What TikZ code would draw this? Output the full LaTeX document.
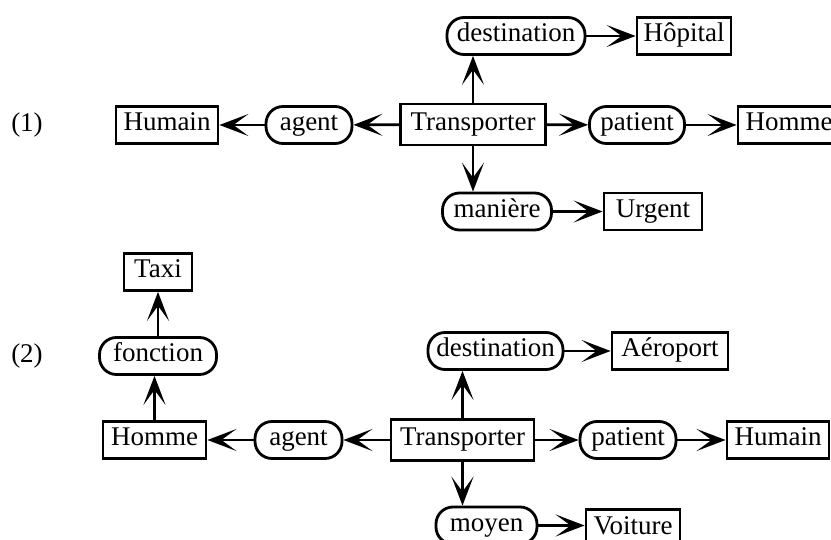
\documentclass[tikz,border=0pt]{standalone}
\usepackage{fontspec}
\setmainfont{Liberation Serif}
\usetikzlibrary{arrows.meta}
\begin{document}
\begin{tikzpicture}[x=1pt,y=-1pt,
  base/.style={draw, line width=2.8pt, inner xsep=2pt, inner ysep=0pt,
    minimum height=37pt, text height=18pt, text depth=6pt,
    font=\fontsize{27}{30}\selectfont},
  concept/.style={base, rectangle},
  relation/.style={base, rounded corners=17pt},
  arr/.style={line width=2.7pt, -{Stealth[length=29pt,width=22pt,inset=15pt]}},
  lbl/.style={font=\fontsize{27}{30}\selectfont}]
\useasboundingbox (0,0) rectangle (831,540);
\clip (0,0) rectangle (831,540);

% ---- graph (1)
\node[lbl] (n1) at (27,125) {(1)};
\node[concept, minimum width=145pt, minimum height=41pt] (t1) at (473,124.5) {Transporter};
\node[relation, minimum width=86pt] (ag1) at (309,125) {agent};
\node[concept, minimum width=102pt] (hu1) at (167,125) {Humain};
\node[relation, minimum width=95pt] (pa1) at (637,125) {patient};
\node[concept, minimum width=102pt] (ho1) at (789,125) {Homme};
\node[relation, minimum width=138pt] (de1) at (516,36) {destination};
\node[concept, minimum width=94pt] (hp1) at (684,36) {Hôpital};
\node[relation, minimum width=109pt] (ma1) at (497,211.5) {manière};
\node[concept, minimum width=98pt] (ur1) at (653,211.5) {Urgent};

\draw[arr] (t1) -- (ag1);
\draw[arr] (ag1) -- (hu1);
\draw[arr] (t1) -- (pa1);
\draw[arr] (pa1) -- (ho1);
\draw[arr] (t1.north) -- (t1.north |- de1.south);
\draw[arr] (de1) -- (hp1);
\draw[arr] (t1.south) -- (t1.south |- ma1.north);
\draw[arr] (ma1) -- (ur1);

% ---- graph (2)
\node[lbl] (n2) at (27,356) {(2)};
\node[concept, minimum width=143pt, minimum height=41pt] (t2) at (462.5,440) {Transporter};
\node[relation, minimum width=87pt] (ag2) at (298.5,440) {agent};
\node[concept, minimum width=103pt] (ho2) at (154.5,440) {Homme};
\node[relation, minimum width=117pt] (fo2) at (158,356) {fonction};
\node[concept, minimum width=68pt] (tx2) at (158,272) {Taxi};
\node[relation, minimum width=96pt] (pa2) at (628,440) {patient};
\node[concept, minimum width=102pt] (hu2) at (778,440) {Humain};
\node[relation, minimum width=135pt] (de2) at (495.5,351) {destination};
\node[concept, minimum width=116pt] (ae2) at (670,351) {Aéroport};
\node[relation, minimum width=101pt] (mo2) at (486.5,525.5) {moyen};
\node[concept, minimum width=94pt] (vo2) at (633,528) {Voiture};

\draw[arr] (t2) -- (ag2);
\draw[arr] (ag2) -- (ho2);
\draw[arr] (ho2.north) -- (ho2.north |- fo2.south);
\draw[arr] (fo2) -- (tx2);
\draw[arr] (t2) -- (pa2);
\draw[arr] (pa2) -- (hu2);
\draw[arr] (t2.north) -- (t2.north |- de2.south);
\draw[arr] (de2) -- (ae2);
\draw[arr] (t2.south) -- (t2.south |- mo2.north);
\draw[arr] (mo2.east) -- (mo2.east -| vo2.west);
\end{tikzpicture}
\end{document}
